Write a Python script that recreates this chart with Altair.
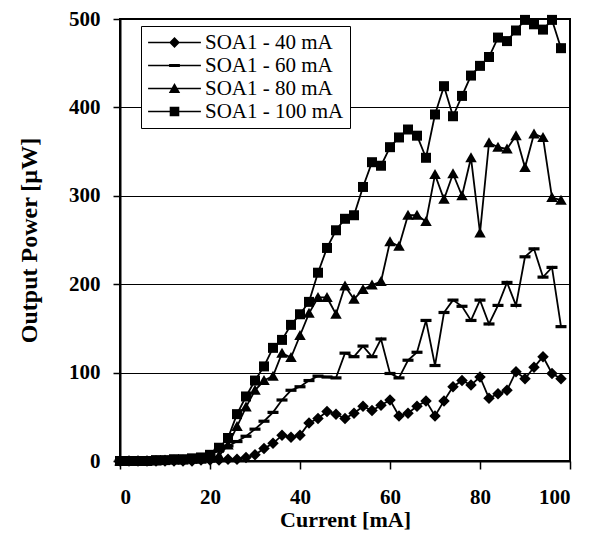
import altair as alt
import pandas as pd

current = [0, 2, 4, 6, 8, 10, 12, 14, 16, 18, 20, 22, 24, 26, 28, 30, 32, 34, 36, 38,
           40, 42, 44, 46, 48, 50, 52, 54, 56, 58, 60, 62, 64, 66, 68, 70, 72, 74, 76, 78,
           80, 82, 84, 86, 88, 90, 92, 94, 96, 98]

soa_40 = [0, 0, 0, 0, 0, 0, 0, 0, 0, 1, 1, 1, 2, 2, 4, 7, 14, 20, 29, 27,
          29, 43, 48, 56, 53, 48, 54, 62, 57, 63, 69, 51, 54, 62, 68, 51, 68, 84, 91, 86,
          95, 71, 76, 80, 101, 93, 106, 118, 99, 93]
soa_60 = [0, 0, 0, 0, 0, 1, 1, 2, 2, 4, 7, 12, 17, 22, 28, 36, 45, 55, 69, 80,
          84, 91, 96, 95, 94, 122, 118, 130, 118, 138, 99, 94, 114, 123, 159, 108, 168, 182, 175, 159,
          182, 155, 176, 202, 176, 231, 240, 208, 219, 152]
soa_80 = [0, 0, 0, 0, 0, 1, 1, 1, 2, 2, 3, 6, 18, 39, 61, 80, 91, 96, 122, 117,
          142, 167, 185, 185, 166, 198, 183, 194, 199, 203, 248, 243, 278, 278, 271, 324, 296, 325, 300, 343,
          258, 360, 355, 353, 368, 332, 370, 366, 298, 295]
soa_100 = [0, 0, 0, 0, 1, 1, 2, 2, 3, 4, 7, 15, 26, 53, 73, 91, 107, 128, 137, 154,
           166, 180, 213, 241, 261, 274, 278, 310, 338, 334, 355, 366, 375, 368, 343, 392, 424, 390, 413, 436,
           447, 457, 479, 475, 487, 499, 494, 488, 499, 467]

series_names = ["SOA1 - 40 mA", "SOA1 - 60 mA", "SOA1 - 80 mA", "SOA1 - 100 mA"]
series_values = [soa_40, soa_60, soa_80, soa_100]

x_ticks = [0, 20, 40, 60, 80, 100]
y_ticks = [0, 100, 200, 300, 400, 500]

rows = []
for name, vals in zip(series_names, series_values):
    for c, v in zip(current, vals):
        rows.append({"current": c, "power": v, "series": name})
df = pd.DataFrame(rows)

diamond = "M0,-1.15L1.15,0L0,1.15L-1.15,0Z"
dash = "M-1.1,-0.32L1.1,-0.32L1.1,0.32L-1.1,0.32Z"
triangle = "M0,-1.1L1.15,0.9L-1.15,0.9Z"
square = "M-1,-1L1,-1L1,1L-1,1Z"
marker_paths = [diamond, dash, triangle, square]

line_seg = "M-4.4,-0.13L4.4,-0.13L4.4,0.13L-4.4,0.13Z"
legend_paths = [
    line_seg + "M0,-0.9L0.9,0L0,0.9L-0.9,0Z",
    line_seg + "M-0.9,-0.27L0.9,-0.27L0.9,0.27L-0.9,0.27Z",
    line_seg + "M0,-0.9L0.95,0.75L-0.95,0.75Z",
    line_seg + "M-0.8,-0.8L0.8,-0.8L0.8,0.8L-0.8,0.8Z",
]

FONT = "Liberation Serif"

x_enc = alt.X(
    "current:Q",
    scale=alt.Scale(domain=[0, 100], nice=False, zero=False),
    axis=alt.Axis(values=x_ticks, title="Current [mA]", grid=False, tickSize=8,
                  labelPadding=17, titlePadding=2, titleFontSize=22),
)
y_enc = alt.Y(
    "power:Q",
    scale=alt.Scale(domain=[0, 500], nice=False),
    axis=alt.Axis(values=y_ticks, title="Output Power [µW]", grid=True, tickSize=7,
                  labelPadding=13, titlePadding=27, titleFontSize=24),
)

lines = alt.Chart(df).mark_line(color="black", strokeWidth=1.8).encode(
    x=x_enc, y=y_enc, detail="series:N", order="current:Q"
)

points = alt.Chart(df).mark_point(filled=True, color="black", size=100, opacity=1).encode(
    x=x_enc,
    y=y_enc,
    shape=alt.Shape("series:N", scale=alt.Scale(domain=series_names, range=marker_paths), legend=None),
)

legend_layer = alt.Chart(df).transform_filter("datum.current < -10").mark_point(
    filled=True, color="black", size=144, opacity=1
).encode(
    x=x_enc,
    y=y_enc,
    shape=alt.Shape(
        "series:N",
        scale=alt.Scale(domain=series_names, range=legend_paths),
        legend=alt.Legend(
            title=None,
            orient="none",
            legendX=21,
            legendY=7,
            strokeColor="black",
            fillColor="white",
            padding=6,
            labelFont=FONT,
            labelFontSize=21,
            labelColor="black",
            symbolSize=144,
            symbolOffset=17,
            labelOffset=20,
            rowPadding=1,
            symbolFillColor="black",
            symbolOpacity=1,
        ),
    ),
)

chart = (
    alt.layer(lines, points, legend_layer)
    .resolve_scale(shape="independent")
    .properties(
        width=450,
        height=442,
        background="white",
        autosize=alt.AutoSizeParams(type="none"),
        padding={"left": 112, "top": 11, "right": 21, "bottom": 69},
    )
    .configure_view(stroke="black", strokeWidth=2)
    .configure_axis(
        labelFont=FONT,
        labelFontWeight="bold",
        labelFontSize=21,
        labelColor="black",
        titleFont=FONT,
        titleFontWeight="bold",
        titleColor="black",
        domainColor="black",
        domainWidth=2,
        tickColor="black",
        tickWidth=1.5,
        gridColor="black",
        gridWidth=1.2,
        gridOpacity=1,
    )
)

chart.save("out.html", embed_options={"renderer": "svg", "actions": False})
